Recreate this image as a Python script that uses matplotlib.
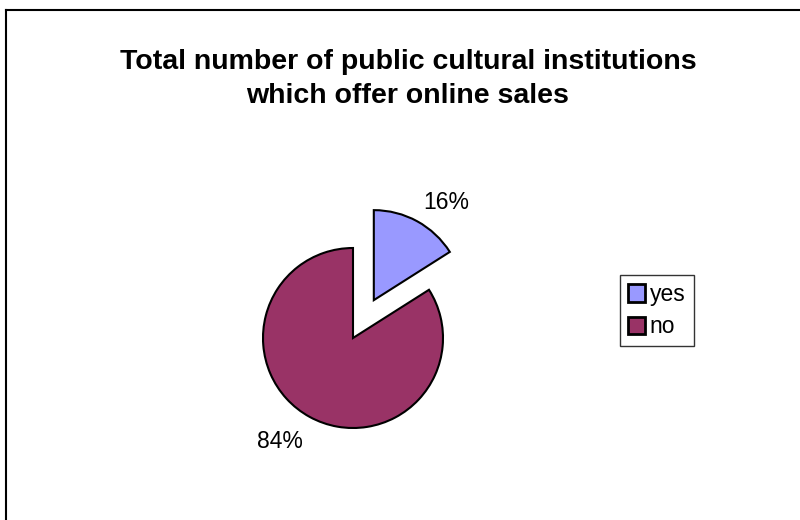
import matplotlib
matplotlib.use("Agg")
import matplotlib.pyplot as plt
from matplotlib.lines import Line2D
import numpy as np

plt.rcParams['font.family'] = ['Liberation Sans', 'DejaVu Sans']

labels = ['yes', 'no']
values = [16, 84]
colors = ['#9999FF', '#993366']
explode_frac = [0.48, 0]

R = 90
fig = plt.figure(figsize=(8, 5.2), dpi=100)
ax = fig.add_axes([0, 0, 1, 1])
ax.axis('off')

# matplotlib's explode is in data units, so scale by radius
wedges, texts, autotexts = ax.pie(values, colors=colors,
                                  explode=[e * R for e in explode_frac],
                                  startangle=90, counterclock=False,
                                  center=(353, 182), radius=R,
                                  autopct='%1.0f%%', pctdistance=1.38,
                                  wedgeprops=dict(edgecolor='black', linewidth=1.5),
                                  textprops=dict(fontsize=16.5))
ax.set_xlim(0, 800)
ax.set_ylim(0, 520)
ax.set_aspect('equal')

# excel places the percent labels slightly rotated clockwise from the wedge middle
for w, t in zip(wedges, autotexts):
    mid = np.deg2rad((w.theta1 + w.theta2) / 2 - 7)
    cx, cy = w.center
    t.set_position((cx + 1.38 * R * np.cos(mid), cy + 1.38 * R * np.sin(mid) - 3))

fig.text(0.51, 0.849, 'Total number of public cultural institutions\nwhich offer online sales',
         ha='center', va='center', fontsize=20.5, fontweight='bold', linespacing=1.4)

leg = fig.legend(wedges, labels, loc='upper left', bbox_to_anchor=(0.775, 0.471),
                 fontsize=16.5, frameon=True, fancybox=False, handlelength=0.75,
                 handleheight=0.8, handletextpad=0.2, borderpad=0.35, labelspacing=0.4,
                 borderaxespad=0)
leg.get_frame().set_edgecolor('black')
leg.get_frame().set_linewidth(1.0)
for h in leg.legend_handles:
    h.set_linewidth(2)

# outer chart border (only top and left visible)
fig.add_artist(Line2D([6/800, 6/800], [0, 1 - 10/520], color='black', lw=1.5))
fig.add_artist(Line2D([6/800, 1], [1 - 10/520, 1 - 10/520], color='black', lw=1.5))

plt.savefig('out.png', dpi=100)
